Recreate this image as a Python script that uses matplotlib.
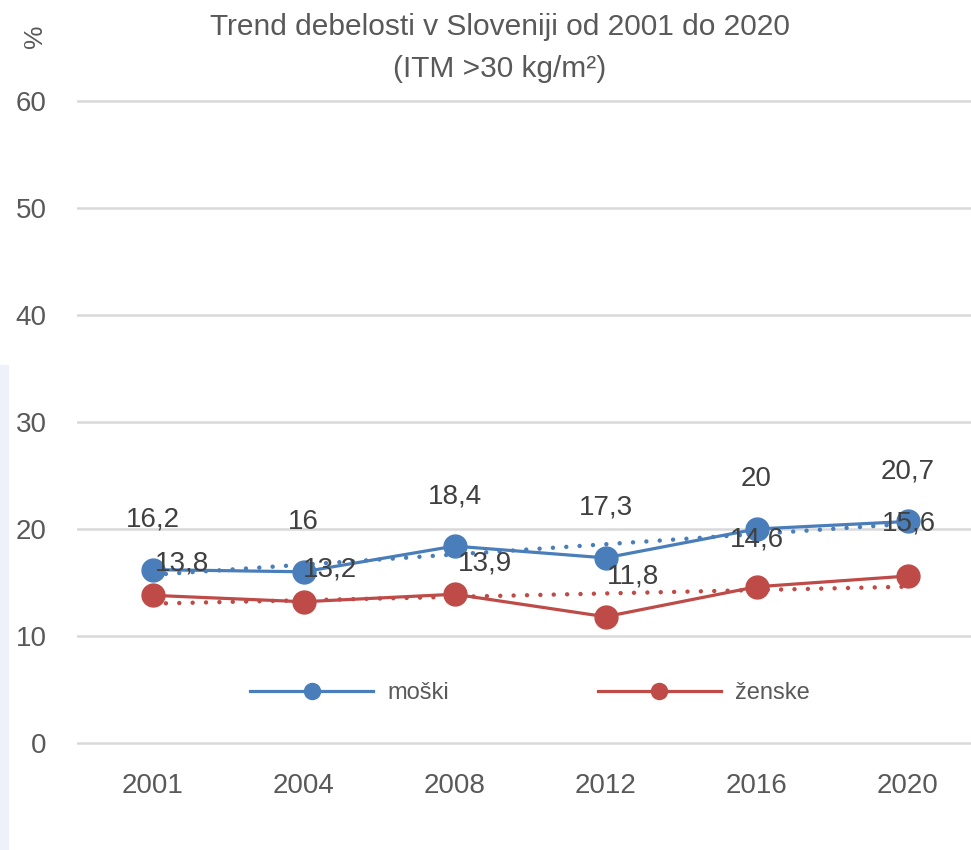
import numpy as np
import matplotlib
matplotlib.use('Agg')
import matplotlib.pyplot as plt
from matplotlib.patches import Rectangle

matplotlib.rcParams['font.family'] = ['Liberation Sans', 'DejaVu Sans']

# data
years = ['2001', '2004', '2008', '2012', '2016', '2020']
moski = [16.2, 16.0, 18.4, 17.3, 20.0, 20.7]
zenske = [13.8, 13.2, 13.9, 11.8, 14.6, 15.6]
yticks = [0, 10, 20, 30, 40, 50, 60]

# label offsets in points (labels were moved by hand in the original)
red_offsets = [(21, 23), (19, 23), (22, 22), (20, 29), (0, 34), (1, 38)]

blue = '#4a7ebb'
red = '#be4b48'
grey = '#595959'

fig = plt.figure(figsize=(9.71, 8.5), dpi=100)
# small margin so the 0 and 60 gridlines are not clipped
ax = fig.add_axes([77 / 971, 1 - 745 / 850, 906 / 971, 646 / 850])

# light strip on the left edge of the screenshot
fig.patches.append(Rectangle((0, 0), 8 / 971, 1 - 365 / 850, transform=fig.transFigure,
                             color='#eef1fa', zorder=0))

x = np.arange(len(years))

ax.plot(x, moski, color=blue, lw=2.3, marker='o', ms=16.5, label='moški', zorder=3)
ax.plot(x, zenske, color=red, lw=2.3, marker='o', ms=16.5, label='ženske', zorder=3)

# linear trend lines
for vals, col in [(moski, blue), (zenske, red)]:
    k, n = np.polyfit(x, vals, 1)
    ax.plot(x, k * x + n, color=col, lw=3.2, ls=(0, (0.01, 3.0)),
            dash_capstyle='round', zorder=4)

for i, v in enumerate(moski):
    ax.annotate(f'{v:g}'.replace('.', ','), (x[i], v), xytext=(0, 36),
                textcoords='offset points', ha='center', va='center',
                fontsize=20, color='#404040', zorder=5)

for i, v in enumerate(zenske):
    dx, dy = red_offsets[i]
    ax.annotate(f'{v:g}'.replace('.', ','), (x[i], v), xytext=(dx, dy),
                textcoords='offset points', ha='center', va='center',
                fontsize=20, color='#404040', zorder=5)

ax.set_xlim(-0.5, 5.5)
ax.set_ylim(-0.19, 60.19)
ax.set_yticks(yticks)
ax.set_xticks(x)
ax.set_xticklabels(years)
ax.tick_params(axis='both', length=0, labelsize=20, labelcolor=grey)
ax.tick_params(axis='y', pad=22)
ax.tick_params(axis='x', pad=20)
ax.grid(axis='y', color='#d9d9d9', lw=1.8)
ax.set_axisbelow(True)
for s in ax.spines.values():
    s.set_visible(False)

ax.legend(loc='center', bbox_to_anchor=(0.5, 0.08), ncol=2, frameon=False,
          fontsize=17, handlelength=5.2, columnspacing=6.3, handletextpad=0.6,
          markerscale=0.7, labelcolor=grey)

fig.text(500 / 971, 1 - 48 / 850, 'Trend debelosti v Sloveniji od 2001 do 2020\n(ITM >30 kg/m²)',
         ha='center', va='center', fontsize=21.5, color=grey, linespacing=1.65,
         family=['Liberation Sans Narrow', 'Liberation Sans', 'DejaVu Sans'])
fig.text(35 / 971, 1 - 36 / 850, '%', rotation=90, ha='center', va='center',
         fontsize=19, color=grey)

fig.savefig('out.png', dpi=100)
